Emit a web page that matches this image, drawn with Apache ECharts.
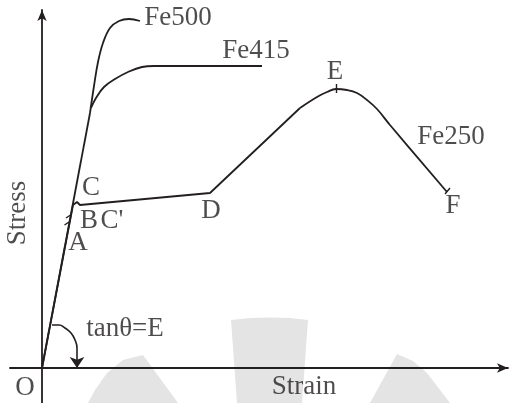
<!DOCTYPE html>
<html>
<head>
<meta charset="utf-8">
<script src="https://cdn.jsdelivr.net/npm/echarts@6/dist/echarts.min.js"></script>
<style>
  html, body { margin: 0; padding: 0; background: #fff; }
  #chart { width: 509px; height: 403px; }
</style>
</head>
<body>
<div id="chart"></div>
<script>
// strain (x) / stress (y) points, arbitrary units
var elasticLine = [[0, 0], [48, 255]]
var fe500 = [[48, 255], [52, 282], [56, 306], [61, 325], [68, 340], [77, 347], [87, 349], [98, 347]]
var fe415 = [[49, 260], [54, 270], [62, 281], [73, 289], [86, 296], [100, 301], [112, 302], [220, 302]]
var fe250Yield = [[0, 0], [31, 163], [33, 165], [35, 166], [37, 165], [38, 163], [168, 175], [258, 260]]
var fe250Peak = [[258, 260], [275, 271], [285, 276], [294, 279], [305, 278], [315, 275], [325, 268], [335, 259], [348, 243], [405, 176]]

// small marks: yield serrations near A, ticks at E and F
var serrations = [[[28.5, 153], [24, 150]], [[27, 146], [22.5, 143]]]
var pointTicks = [[[294, 275], [294, 284]], [[403, 174], [408, 180]]]

// angle arc (tanθ=E) and its arrow
var thetaArc = [[10, 43], [17, 43], [23, 40], [29, 35], [33, 28], [35, 20], [35, 12]]
var thetaArrow = [[35, 12], [35, 0]]

// text annotations
var labelTexts = ['Fe500', 'Fe415', 'E', 'Fe250', 'F', 'C', 'B', "C'", 'A', 'D', 'O', 'Strain', 'tanθ=E']
var labelX = [136, 214, 293, 409, 411, 49, 47, 70, 36, 169, -17, 262, 83]
var labelY = [350, 317, 296, 231, 162, 180, 147, 147, 125, 157, -20, -19, 39]
var yAxisTitle = 'Stress'
var yAxisTitlePos = [-24, 155]

var ink = '#231f20'
var font = 'Liberation Serif'

var labelData = labelTexts.map(function (t, i) {
  return { value: [labelX[i], labelY[i]], name: t }
})

var curveStyle = { color: ink, width: 1.8 }

var chart = echarts.init(document.getElementById('chart'))
chart.setOption({
  backgroundColor: '#fff',
  animation: false,
  grid: { left: 10, right: 1, top: 10, bottom: 0 },
  xAxis: {
    type: 'value', min: -32, max: 466,
    axisLine: { onZero: true, symbol: ['none', 'arrow'], symbolSize: [7, 11], lineStyle: { color: ink, width: 1.8 } },
    axisTick: { show: false }, axisLabel: { show: false }, splitLine: { show: false }
  },
  yAxis: {
    type: 'value', min: -35, max: 358,
    axisLine: { onZero: true, symbol: ['none', 'arrow'], symbolSize: [7, 11], lineStyle: { color: ink, width: 1.8 } },
    axisTick: { show: false }, axisLabel: { show: false }, splitLine: { show: false }
  },
  // faint watermark in the background
  graphic: [
    { type: 'polygon', z: -10, silent: true, shape: { points: [[143, 355], [178, 403], [88, 403], [95, 390], [107, 373], [123, 360]] }, style: { fill: '#e4e4e4' } },
    { type: 'polygon', z: -10, silent: true, shape: { points: [[231, 320], [250, 318], [270, 317.5], [290, 318], [308, 320], [302, 403], [237, 403]] }, style: { fill: '#e4e4e4' } },
    { type: 'polygon', z: -10, silent: true, shape: { points: [[397, 354], [370, 403], [450, 403], [440, 390], [427, 373], [413, 361]] }, style: { fill: '#e4e4e4' } }
  ],
  series: [
    { type: 'line', data: elasticLine, symbol: 'none', lineStyle: curveStyle },
    { type: 'line', data: fe500, symbol: 'none', smooth: 0.4, lineStyle: curveStyle },
    { type: 'line', data: fe415, symbol: 'none', smooth: 0.4, lineStyle: curveStyle },
    { type: 'line', data: fe250Yield, symbol: 'none', lineStyle: curveStyle },
    { type: 'line', data: fe250Peak, symbol: 'none', smooth: 0.4, lineStyle: curveStyle },
    {
      type: 'lines', coordinateSystem: 'cartesian2d', symbol: 'none',
      lineStyle: { color: ink, width: 1.4, opacity: 1, curveness: 0 },
      data: serrations.concat(pointTicks).map(function (c) { return { coords: c } })
    },
    { type: 'line', data: thetaArc, symbol: 'none', smooth: 0.5, lineStyle: { color: ink, width: 1.6 } },
    {
      type: 'lines', coordinateSystem: 'cartesian2d',
      symbol: ['none', 'arrow'], symbolSize: [7, 11],
      lineStyle: { color: ink, width: 1.6, opacity: 1, curveness: 0 },
      data: [{ coords: thetaArrow }]
    },
    {
      type: 'scatter', symbolSize: 0, data: labelData,
      label: {
        show: true, position: 'inside', formatter: '{b}',
        color: ink, fontFamily: font, fontSize: 27
      }
    },
    {
      type: 'scatter', symbolSize: 0, data: [{ value: yAxisTitlePos, name: yAxisTitle }],
      label: {
        show: true, position: 'inside', formatter: '{b}', rotate: 90,
        color: ink, fontFamily: font, fontSize: 27
      }
    }
  ]
})
</script>
</body>
</html>
